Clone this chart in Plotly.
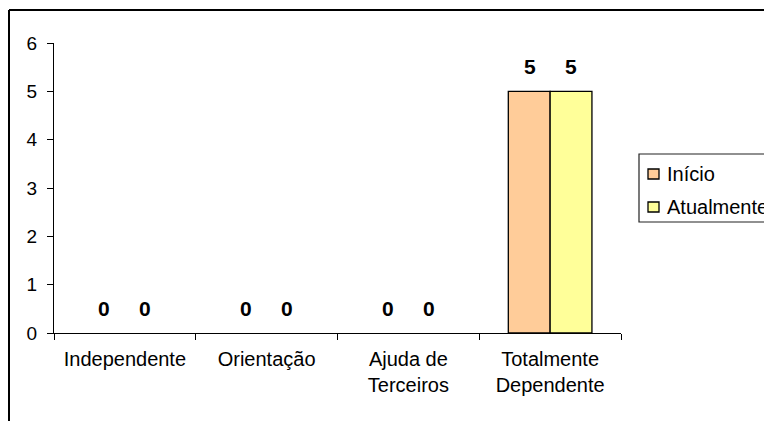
import plotly.graph_objects as go

categories = ["Independente", "Orientação", "Ajuda de<br>Terceiros", "Totalmente<br>Dependente"]
inicio = [0, 0, 0, 5]
atualmente = [0, 0, 0, 5]
series_names = ["Início", "Atualmente"]
colors = ["#FFCC99", "#FFFF99"]

# figure size (page has an 8px body margin)
W, H = 764, 413
L, R, T, B = 46, 151, 35, 88
pw, ph = W - L - R, H - T - B


def px(fx):
    return (fx - L) / pw


def py(fy):
    return (H - B - fy) / ph


FONT = "Liberation Sans, Arial"

fig = go.Figure()
for name, vals, col in zip(series_names, [inicio, atualmente], colors):
    fig.add_trace(go.Bar(
        x=categories, y=vals, name=name, showlegend=False,
        marker=dict(color=col, line=dict(color="black",
                                         width=[1.3 if v != 0 else 0 for v in vals])),
    ))

annotations = []
for vals, dx in zip([inicio, atualmente], [-20.5, 20.5]):
    for c, v in zip(categories, vals):
        annotations.append(dict(
            x=c, y=v, xref="x", yref="y", text=f"<b>{v}</b>", showarrow=False,
            xshift=dx, yshift=25, yanchor="middle", xanchor="center",
            font=dict(family=FONT, size=21, color="black"),
        ))

shapes = [
    # outer chart frame (top and left edges visible)
    dict(type="line", xref="paper", yref="paper",
         x0=px(1), x1=px(W + 5), y0=py(2), y1=py(2),
         line=dict(color="black", width=2)),
    dict(type="line", xref="paper", yref="paper",
         x0=px(1), x1=px(1), y0=py(2), y1=py(H + 5),
         line=dict(color="black", width=2)),
    # legend box
    dict(type="rect", xref="paper", yref="paper",
         x0=px(631), x1=px(W + 20), y0=py(146), y1=py(214),
         line=dict(color="#222222", width=1.2), fillcolor="white", layer="below"),
]

# custom legend entries
leg_rows = [166, 199]
for name, col, cy in zip(series_names, colors, leg_rows):
    shapes.append(dict(type="rect", xref="paper", yref="paper",
                       x0=px(640), x1=px(651), y0=py(cy - 5), y1=py(cy + 5),
                       line=dict(color="black", width=1.3), fillcolor=col))
    annotations.append(dict(
        x=px(657), y=py(cy), xref="paper", yref="paper", text=name, showarrow=False,
        xanchor="left", yanchor="middle", font=dict(family=FONT, size=20, color="black"),
    ))

fig.update_layout(
    width=W, height=H,
    margin=dict(l=L, r=R, t=T, b=B, autoexpand=False),
    paper_bgcolor="white", plot_bgcolor="white",
    barmode="group", bargap=0.41, bargroupgap=0,
    font=dict(family=FONT, size=20, color="black"),
    showlegend=False,
    annotations=annotations,
    shapes=shapes,
    xaxis=dict(
        showline=True, linecolor="black", linewidth=1, automargin=False, tickangle=0,
        ticks="outside", tickson="boundaries", ticklen=6, tickcolor="black",
        tickfont=dict(size=20), showgrid=False, ticklabelstandoff=8,
    ),
    yaxis=dict(
        range=[0, 6], dtick=1, showline=True, linecolor="black", linewidth=1, automargin=False,
        ticks="outside", ticklen=6, tickcolor="black", showgrid=False, zeroline=False,
        tickfont=dict(size=19), ticklabelstandoff=6,
    ),
)

fig.write_html("out.html")
